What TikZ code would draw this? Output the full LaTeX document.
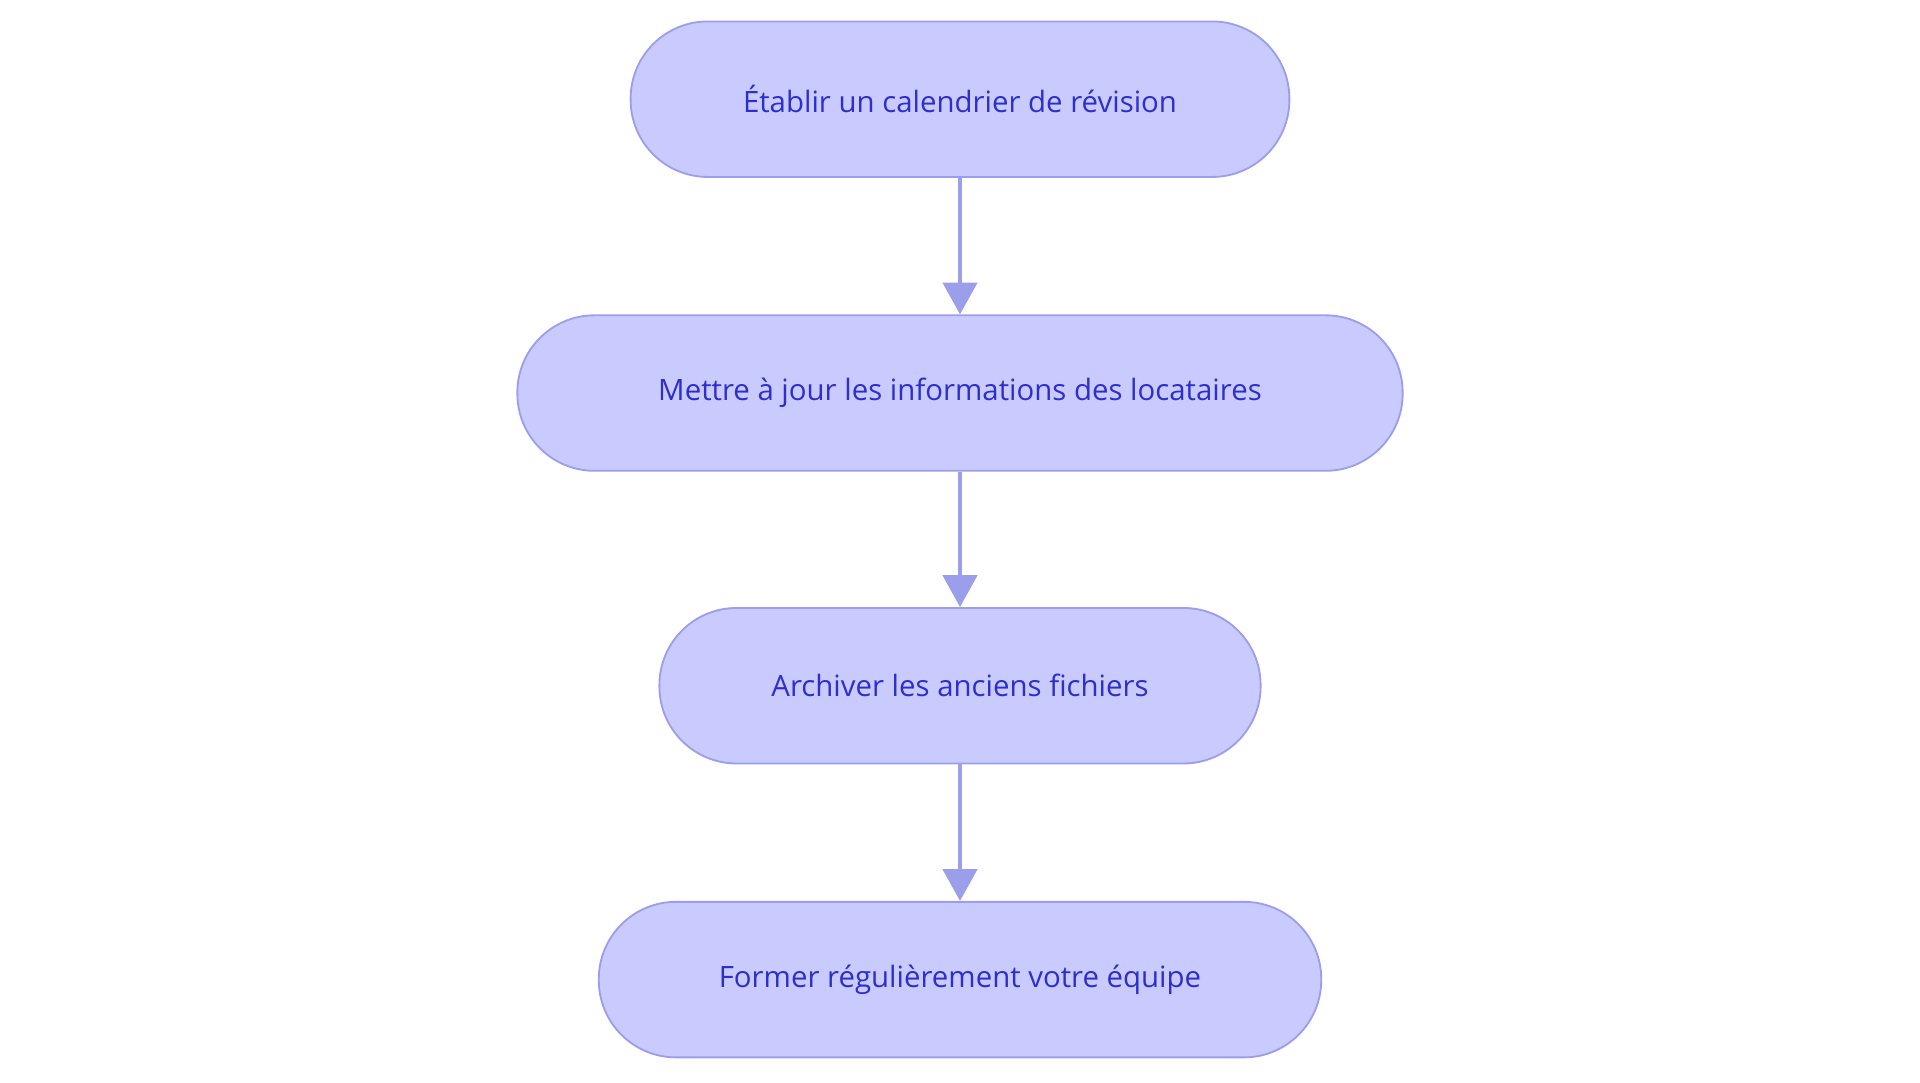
\documentclass[tikz,border=0pt]{standalone}
\usepackage{fontspec}
\setmainfont{Open Sans}
\usetikzlibrary{arrows.meta}
\definecolor{nfill}{HTML}{C9CBFE}
\definecolor{nline}{HTML}{9B9EEB}
\definecolor{ntext}{HTML}{2E2ECC}
\begin{document}
\begin{tikzpicture}[x=1pt,y=-1pt,
  box/.style={draw=nline,fill=nfill,line width=1.5pt,rounded corners=63pt,minimum height=127pt,inner sep=0pt,text=ntext,font=\fontsize{24}{28}\selectfont},
  arr/.style={draw=nline,line width=3pt,-{Triangle[length=26pt,width=28pt]}}]
\useasboundingbox (0,0) rectangle (1568,884);
\node[box,minimum width=538pt] (a) at (784,81) {Établir un calendrier de révision};
\node[box,minimum width=723pt] (b) at (784,321) {Mettre à jour les informations des locataires};
\node[box,minimum width=491pt] (c) at (784,560) {Archiver les anciens fichiers};
\node[box,minimum width=590pt] (d) at (784,800) {Former régulièrement votre équipe};
\draw[arr] (a) -- (b);
\draw[arr] (b) -- (c);
\draw[arr] (c) -- (d);
\end{tikzpicture}
\end{document}
